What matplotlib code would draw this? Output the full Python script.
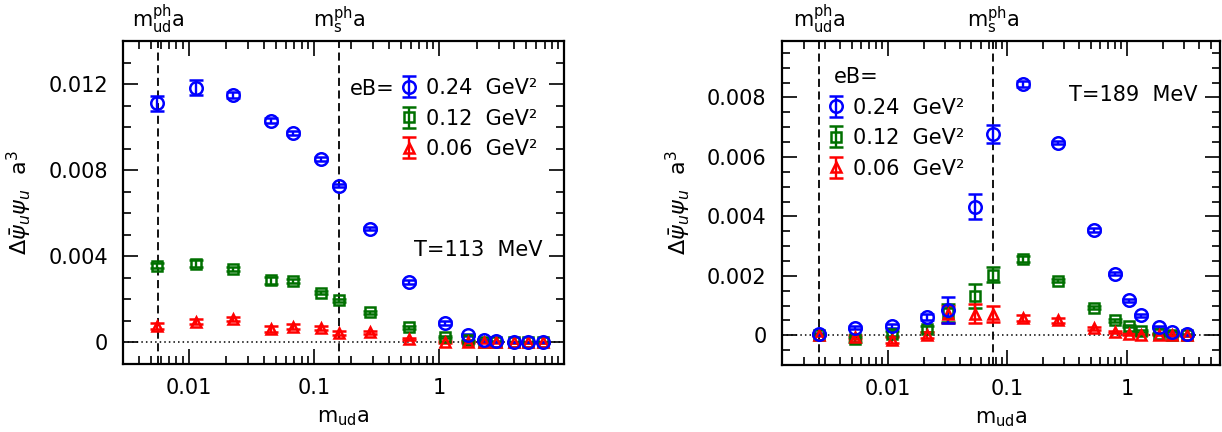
import matplotlib
matplotlib.use("Agg")
import matplotlib.pyplot as plt
from matplotlib.ticker import FixedLocator, LogLocator, NullFormatter, FixedFormatter

# ---- data: T=113 MeV panel ----
m_left = [0.00565, 0.0114, 0.0226, 0.0455, 0.0682, 0.1145, 0.160, 0.280,
          0.575, 1.12, 1.70, 2.28, 2.86, 4.0, 5.18, 6.8]
b24_left = [0.01111, 0.01184, 0.01149, 0.0103, 0.00972, 0.00852, 0.00728, 0.00528,
            0.0028, 0.0009, 0.00036, 0.00012, 0.00005, 0.00002, 0.00001, 0.00001]
e24_left = [0.00035, 0.00037, 0.00012, 0.00012, 0.0001, 0.0001, 0.00008, 0.00008,
            0.00008, 0.00008, 0.00005, 0.00003, 0.00002, 0.00001, 0.00001, 0.00001]
b12_left = [0.00357, 0.00365, 0.00341, 0.00288, 0.00287, 0.0023, 0.00197, 0.0014,
            0.0007, 0.00025, 0.0001, 0.00003, 0.00002, 0.0, 0.0, 0.0]
e12_left = [0.00012, 0.00016, 0.0001, 0.00016, 0.0001, 0.00007, 0.00007, 0.00007,
            0.00006, 0.00005, 0.00003, 0.00002, 0.00001, 0.00001, 0.00001, 0.00001]
b06_left = [0.00077, 0.00097, 0.0011, 0.00062, 0.00074, 0.00068, 0.00044, 0.00047,
            0.00017, 0.00003, 0.00001, 0.0, 0.0, 0.0, 0.0, 0.0]
e06_left = [0.00015, 0.00012, 0.0001, 0.00013, 0.0001, 0.0001, 0.0001, 0.00008,
            0.00005, 0.00004, 0.00002, 0.00001, 0.00001, 0.00001, 0.00001, 0.00001]
mud_left, ms_left = 0.00571, 0.160

# ---- data: T=189 MeV panel ----
m_right = [0.00269, 0.00534, 0.0108, 0.0214, 0.0320, 0.0535, 0.0761, 0.134,
           0.265, 0.527, 0.80, 1.05, 1.32, 1.85, 2.39, 3.17]
b24_right = [0.00004, 0.00026, 0.00031, 0.0006, 0.00085, 0.00433, 0.00677, 0.00845,
             0.00648, 0.00354, 0.00207, 0.00118, 0.00067, 0.00029, 0.00012, 0.00003]
e24_right = [0.00003, 0.00006, 0.00006, 0.0001, 0.00045, 0.00043, 0.0003, 0.0001,
             0.00006, 0.00006, 0.00005, 0.00005, 0.00004, 0.00003, 0.00002, 0.00001]
b12_right = [0.00002, -0.00013, 0.00005, 0.00022, 0.00075, 0.00132, 0.00203, 0.00256,
             0.00183, 0.00093, 0.0005, 0.00031, 0.00014, 0.00005, 0.00001, 0.0]
e12_right = [0.00002, 0.00008, 0.00008, 0.0001, 0.0003, 0.00041, 0.00025, 0.0001,
             0.00005, 0.00005, 0.00004, 0.00004, 0.00003, 0.00002, 0.00001, 0.00001]
b06_right = [0.0, -0.00005, -0.00015, 0.0, 0.0007, 0.00073, 0.00071, 0.00057,
             0.0005, 0.00024, 0.00012, 0.00005, 0.00002, 0.00002, 0.0, 0.0]
e06_right = [0.00002, 0.00006, 0.0001, 0.0001, 0.0003, 0.00033, 0.00026, 0.0001,
             0.00008, 0.00005, 0.00004, 0.00003, 0.00002, 0.00002, 0.00001, 0.00001]
mud_right, ms_right = 0.00269, 0.0761

labels = ["0.24  GeV\u00b2", "0.12  GeV\u00b2", "0.06  GeV\u00b2"]
blue, green, red = "#0000ff", "#007000", "#ff0000"

plt.rcParams["font.family"] = "DejaVu Sans"
plt.rcParams["mathtext.fontset"] = "dejavusans"
FS = 15

fig = plt.figure(figsize=(12.22, 4.32), dpi=100)
axL = fig.add_axes([0.1007, 0.1574, 0.3609, 0.7477])
axR = fig.add_axes([0.6397, 0.1551, 0.3587, 0.7500])


def draw(ax, m, sets, mud, ms, xlim, ylim, ymaj, ymin, ylabels):
    handles = []
    for (y, e, c, mk, ms_, lab) in sets:
        h = ax.errorbar(m, y, yerr=e, fmt=mk, color=c, mfc="none", mec=c,
                        ms=ms_, mew=1.8, elinewidth=1.7, capsize=4.8,
                        capthick=1.8, label=lab, zorder=3)
        handles.append(h)
    ax.set_xscale("log")
    ax.set_xlim(*xlim)
    ax.set_ylim(*ylim)
    ax.axhline(0, color="black", ls=(0, (1, 2)), lw=1.1, zorder=1)
    ax.axvline(mud, color="black", ls=(0, (4.5, 2.5)), lw=1.3, zorder=1)
    ax.axvline(ms, color="black", ls=(0, (4.5, 2.5)), lw=1.3, zorder=1)
    ax.xaxis.set_major_locator(FixedLocator([0.01, 0.1, 1]))
    ax.xaxis.set_major_formatter(FixedFormatter(["0.01", "0.1", "1"]))
    ax.xaxis.set_minor_locator(LogLocator(base=10, subs=range(2, 10)))
    ax.xaxis.set_minor_formatter(NullFormatter())
    ax.yaxis.set_major_locator(FixedLocator(ymaj))
    ax.yaxis.set_major_formatter(FixedFormatter(ylabels))
    ax.yaxis.set_minor_locator(FixedLocator(ymin))
    ax.tick_params(which="both", direction="in", top=True, right=True,
                   width=1.2, labelsize=FS)
    ax.tick_params(which="major", length=11)
    ax.tick_params(axis="x", which="major", pad=10)
    ax.tick_params(axis="y", which="major", pad=11)
    ax.tick_params(which="minor", length=5.5)
    for s in ax.spines.values():
        s.set_linewidth(1.6)
    ax.set_xlabel(r"$\mathregular{m_{ud}a}$", fontsize=FS, labelpad=7)
    ax.set_ylabel(r"$\Delta\bar{\psi}_u\psi_u\ \ \mathregular{a}^3$", fontsize=FS + 1,
                  labelpad=10)
    ax.text(mud, 1.015, r"$\mathregular{m^{ph}_{ud}a}$", transform=ax.get_xaxis_transform(),
            ha="center", va="bottom", fontsize=FS)
    ax.text(ms, 1.015, r"$\mathregular{m^{ph}_{s}a}$", transform=ax.get_xaxis_transform(),
            ha="center", va="bottom", fontsize=FS)
    return handles


setsL = [(b12_left, e12_left, green, "s", 6.5, labels[1]),
         (b06_left, e06_left, red, "^", 7.5, labels[2]),
         (b24_left, e24_left, blue, "o", 9, labels[0])]
hL = draw(axL, m_left, setsL, mud_left, ms_left, (0.003, 10), (-0.001, 0.014),
          [0, 0.004, 0.008, 0.012], [i * 0.001 for i in range(-1, 15)],
          ["0", "0.004", "0.008", "0.012"])
axL.legend([hL[2], hL[0], hL[1]], labels, loc="upper left",
           bbox_to_anchor=(0.63, 0.885), frameon=False, fontsize=FS,
           handlelength=0.8, handletextpad=0.4, labelspacing=0.5,
           borderpad=0, borderaxespad=0)
axL.text(0.515, 0.852, "eB=", transform=axL.transAxes, fontsize=FS,
         ha="left", va="center")
axL.text(0.66, 0.353, "T=113  MeV", transform=axL.transAxes, fontsize=FS,
         ha="left", va="center")

setsR = [(b12_right, e12_right, green, "s", 6.5, labels[1]),
         (b06_right, e06_right, red, "^", 7.5, labels[2]),
         (b24_right, e24_right, blue, "o", 9, labels[0])]
hR = draw(axR, m_right, setsR, mud_right, ms_right, (0.0013, 6.0), (-0.001, 0.0099),
          [0, 0.002, 0.004, 0.006, 0.008], [i * 0.0005 for i in range(-2, 20)],
          ["0", "0.002", "0.004", "0.006", "0.008"])
axR.legend([hR[2], hR[0], hR[1]], labels, loc="upper left",
           bbox_to_anchor=(0.105, 0.825), frameon=False, fontsize=FS,
           handlelength=0.8, handletextpad=0.4, labelspacing=0.5,
           borderpad=0, borderaxespad=0)
axR.text(0.12, 0.89, "eB=", transform=axR.transAxes, fontsize=FS,
         ha="left", va="center")
axR.text(0.655, 0.833, "T=189  MeV", transform=axR.transAxes, fontsize=FS,
         ha="left", va="center")

fig.savefig("out.png", dpi=100)
